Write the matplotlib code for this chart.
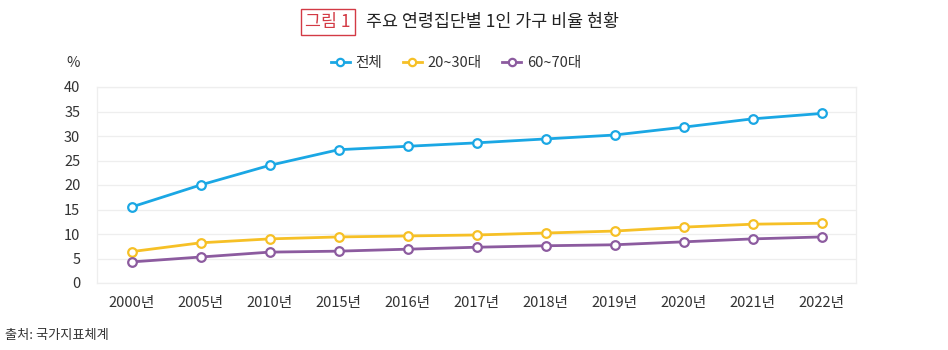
import matplotlib
matplotlib.use("Agg")
import matplotlib.pyplot as plt

plt.rcParams['font.family'] = ['Noto Sans CJK KR', 'DejaVu Sans']

years = ['2000년', '2005년', '2010년', '2015년', '2016년', '2017년', '2018년', '2019년', '2020년', '2021년', '2022년']
total = [15.5, 20.0, 24.0, 27.2, 27.9, 28.6, 29.4, 30.2, 31.8, 33.5, 34.6]
age_20_30 = [6.4, 8.2, 9.0, 9.4, 9.6, 9.8, 10.2, 10.6, 11.4, 12.0, 12.2]
age_60_70 = [4.3, 5.3, 6.3, 6.5, 6.9, 7.3, 7.6, 7.8, 8.4, 9.0, 9.4]
series_names = ['전체', '20~30대', '60~70대']
colors = ['#1aa7e4', '#f6c026', '#8c5b9f']
yticks = [0, 5, 10, 15, 20, 25, 30, 35, 40]

fig = plt.figure(figsize=(9.48, 3.5), dpi=100)
ax = fig.add_axes([97/948, 67/350, (856-97)/948, (283-87)/350])

x = list(range(len(years)))
for vals, name, c in zip([total, age_20_30, age_60_70], series_names, colors):
    ax.plot(x, vals, color=c, lw=2.0, marker='o', ms=6.2, mfc='white', mec=c, mew=1.6,
            label=name, zorder=3)

ax.set_xlim(-0.5, len(years) - 0.5)
ax.set_ylim(0, 40)
ax.set_yticks(yticks)
ax.set_xticks(x)
ax.set_xticklabels(years)
ax.tick_params(axis='both', length=0, labelsize=10.5, colors='#333333')
ax.tick_params(axis='x', pad=9)
ax.tick_params(axis='y', pad=12)
ax.grid(axis='y', color='#eeeeee', lw=0.9)
ax.set_axisbelow(True)
for s in ax.spines.values():
    s.set_color('#eeeeee')
    s.set_linewidth(0.9)

fig.text(73/948, 1 - 63/350, '%', ha='center', va='center', fontsize=10.5, color='#333333')

leg = ax.legend(loc='center', bbox_to_anchor=(456/948, 1 - 63/350), bbox_transform=fig.transFigure,
                ncol=3, frameon=False, fontsize=10.5, handlelength=1.3, columnspacing=1.4,
                handletextpad=0.4, markerscale=0.85)
for t in leg.get_texts():
    t.set_color('#333333')

# Title
fig.text(328/948, 1 - 22/350, '그림 1', ha='center', va='center', fontsize=12.5, color='#d33a45',
         bbox=dict(boxstyle='square,pad=0.25', fc='white', ec='#d33a45', lw=1.0))
fig.text(366/948, 1 - 22/350, '주요 연령집단별 1인 가구 비율 현황', ha='left', va='center',
         fontsize=12.5, color='#222222')

fig.text(5/948, 1 - 336/350, '출처: 국가지표체계', ha='left', va='center', fontsize=9.5, color='#333333')

fig.savefig('out.png', dpi=100)
